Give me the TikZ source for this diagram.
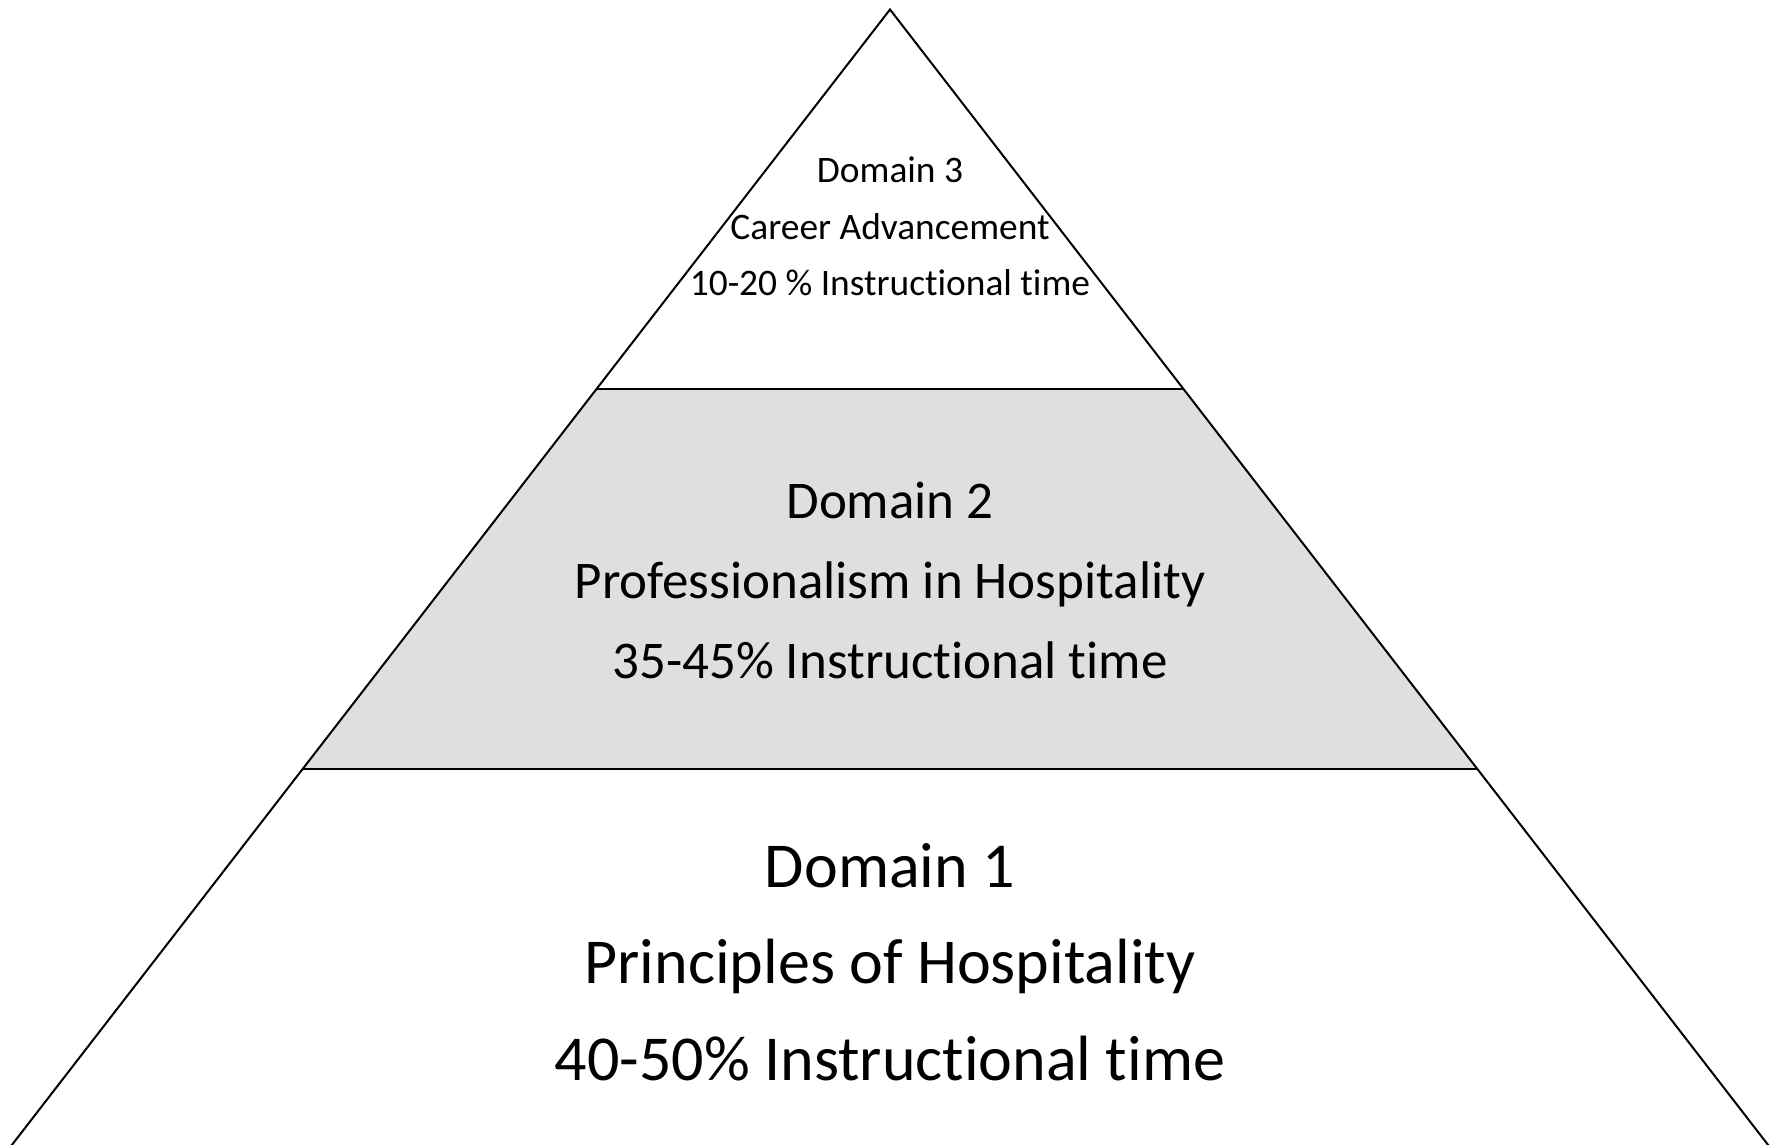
\documentclass[tikz,border=0pt]{standalone}
\usepackage{fontspec}
\setmainfont{Carlito}[Ligatures={NoCommon,NoContextual}]
\usetikzlibrary{calc}
\definecolor{bandgray}{RGB}{223,223,223}
\begin{document}
\begin{tikzpicture}[x=0.5pt,y=-0.5pt,
  edge/.style={line width=1pt, line join=miter, black},
  bandfill/.style={fill=bandgray, draw=none},
  txt/.style={align=center, inner sep=0pt, text=black}]
\useasboundingbox (0,0) rectangle (1779,1145);
\clip (0,0) rectangle (1779,1145);
\coordinate (apex) at (890,9.5);
\coordinate (bl) at (8,1150);
\coordinate (br) at (1772,1150);
\coordinate (l1) at ($(apex)!0.3327!(bl)$);
\coordinate (r1) at ($(apex)!0.3327!(br)$);
\coordinate (l2) at ($(apex)!0.6659!(bl)$);
\coordinate (r2) at ($(apex)!0.6659!(br)$);
\fill[bandfill] (l1) -- (r1) -- (r2) -- (l2) -- cycle;
\draw[edge] (bl) -- (apex) -- (br);
\draw[edge] (l1) -- (r1);
\draw[edge] (l2) -- (r2);
\node[txt, font=\fontsize{18.7}{28.3}\selectfont] (d3) at (890,226.5)
  {Domain 3\\Career Advancement\\10-20 \% Instructional time};
\node[txt, font=\fontsize{26.5}{40}\selectfont] (d2) at (890,580)
  {Domain 2\\Professionalism in Hospitality\\35-45\% Instructional time};
\node[txt, font=\fontsize{32}{48.2}\selectfont] (d1) at (890,962)
  {Domain 1\\Principles of Hospitality\\40-50\% Instructional time};
\end{tikzpicture}
\end{document}
